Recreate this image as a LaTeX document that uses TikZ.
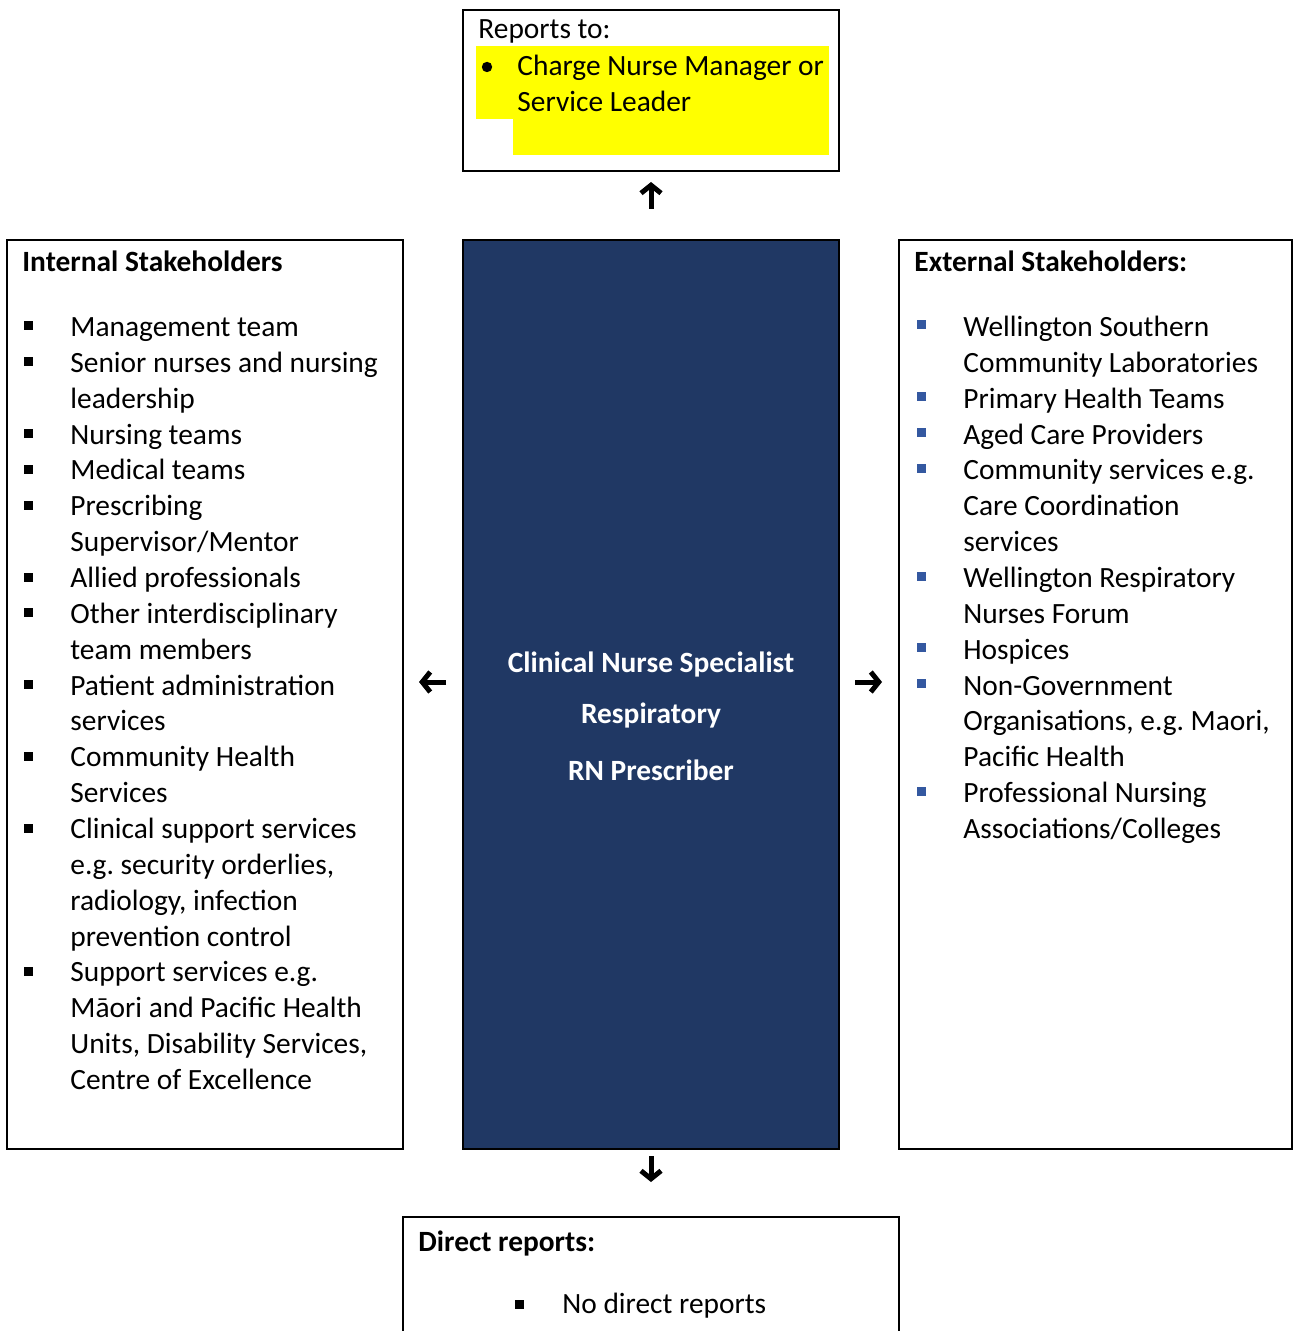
\documentclass[tikz,border=0pt]{standalone}
\usepackage{fontspec}
\setmainfont{Carlito}
\usepackage{tikz}
\usetikzlibrary{arrows.meta}
\definecolor{rolenavy}{HTML}{203864}
\definecolor{bulletblue}{HTML}{3458A0}
\definecolor{marker}{HTML}{FFFF00}
\frenchspacing
\newcommand{\sqbullet}[3][black] % [couleur]{x}{y}
{
	\fill [#1] (#2-4.5,#3-4.5) rectangle (#2+4.5,#3+4.5);
}
\tikzset{
	txt/.style={anchor=base west, inner sep=0pt, font=\fontsize{14.7}{17.9}\selectfont},
	head/.style={txt, font=\fontsize{14.7}{17.9}\selectfont\bfseries},
	box/.style={draw, line width=1pt, inner sep=0pt},
	arr/.style={line width=2.5pt, -{Straight Barb[length=4pt, width=10pt]}}
}

\begin{document}
\begin{tikzpicture}[x=0.5pt, y=-0.5pt]
		\clip (0,0) rectangle (1293,1331);
		% les cadres
		\node [box, line width=1.4pt, minimum width=188pt, minimum height=80.5pt] (reports) at (651,90.5) {};
		\node [box, minimum width=198pt, minimum height=454.5pt] (internal) at (205,694.5) {};
		\node [box, fill=rolenavy, minimum width=188pt, minimum height=454.5pt] (role) at (651,694.5) {};
		\node [box, minimum width=196.25pt, minimum height=454.5pt] (external) at (1095.25,694.5) {};
		\node [box, minimum width=248pt, minimum height=100pt] (direct) at (651,1317) {};

		% reports to
		\fill [marker] (476,46) rectangle (829,119);
		\fill [marker] (513,119) rectangle (829,155);
		\node [txt] (rtitle) at (478,39) {Reports to:};
		\fill (487,67) circle [radius=2.6pt];
		\node [txt] (r1) at (517,76) {Charge Nurse Manager or};
		\node [txt] (r2) at (517,112) {Service Leader};

		% le poste
		\node [head, anchor=base, white] (job1) at (651,672) {Clinical Nurse Specialist};
		\node [head, anchor=base, white] (job2) at (651,723) {Respiratory};
		\node [head, anchor=base, white] (job3) at (651,780) {RN Prescriber};

		% internal
		\node [head] (itile) at (22,272) {Internal Stakeholders};
		\foreach \t [count=\i from 0] in {Management team, Senior nurses and nursing, leadership, Nursing teams, Medical teams, Prescribing, Supervisor/Mentor, Allied professionals, Other interdisciplinary, team members, Patient administration, services, Community Health, Services, Clinical support services, {e.g. security orderlies,}, {radiology, infection}, prevention control, Support services e.g., Māori and Pacific Health, {Units, Disability Services,}, Centre of Excellence}
			\node [txt] (int\i) at (70,336.5+35.86*\i) {\t};
		\foreach \k in {0,1,3,4,5,7,8,10,12,14,18}
			{\sqbullet{28}{326+35.86*\k}}

		% external
		\node [head] (etitle) at (914,272) {External Stakeholders:};
		\foreach \t [count=\i from 0] in {Wellington Southern, Community Laboratories, Primary Health Teams, Aged Care Providers, Community services e.g., Care Coordination, services, Wellington Respiratory, Nurses Forum, Hospices, Non-Government, {Organisations, e.g. Maori,}, Pacific Health, Professional Nursing, Associations/Colleges}
			\node [txt] (ext\i) at (963,336.5+35.86*\i) {\t};
		\foreach \k in {0,2,3,4,7,9,10,13}
			{\sqbullet[bulletblue]{921}{325+35.86*\k}}

		% direct reports
		\node [head] (dtitle) at (418,1251) {Direct reports:};
		\sqbullet{519}{1304}
		\node [txt] (d1) at (562,1313) {No direct reports};

		% fleches
		\coordinate (upa) at (651,209);
		\coordinate (upb) at (651,182);
		\coordinate (lfa) at (446,682);
		\coordinate (lfb) at (419,682);
		\coordinate (rta) at (855,682);
		\coordinate (rtb) at (882,682);
		\coordinate (dna) at (651,1156);
		\coordinate (dnb) at (651,1182);
		\draw [arr] (upa) -- (upb);
		\draw [arr] (lfa) -- (lfb);
		\draw [arr] (rta) -- (rtb);
		\draw [arr] (dna) -- (dnb);
	\end{tikzpicture}
\end{document}
